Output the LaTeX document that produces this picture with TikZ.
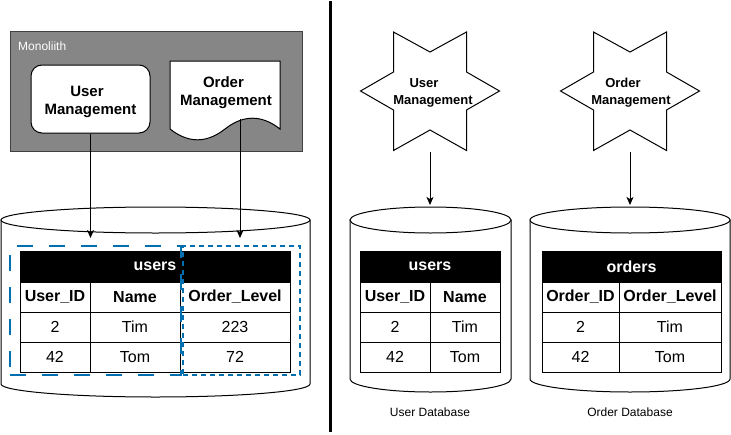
\documentclass[tikz,border=0pt]{standalone}
\usepackage{fontspec}
\setmainfont{Liberation Sans}
\usetikzlibrary{arrows.meta}
\definecolor{monogray}{HTML}{868686}
\definecolor{dashblue}{HTML}{006EAF}
\newcommand\myfs[1]{\fontsize{#1}{#1}\selectfont}
\newcommand\dbcyl[4]{%
  \pgfmathsetmacro\cylcx{(#1+#2)/2}%
  \pgfmathsetmacro\cylka{0.5523*(#2-#1)/2}%
  \draw[cyl] (#1,#3+13) -- (#1,#4-13)
    .. controls (#1,#4-5.82) and (\cylcx-\cylka,#4) .. (\cylcx,#4)
    .. controls (\cylcx+\cylka,#4) and (#2,#4-5.82) .. (#2,#4-13)
    -- (#2,#3+13) -- cycle;
  \draw[cyl] (\cylcx,#3+13) ellipse [x radius={(#2-#1)/2}, y radius=13];
}
\newcommand\hexstar[1]{%
  \draw[starline] (#1,52) -- (#1+36.5,32) -- (#1+36.5,72) -- (#1+69.5,91)
    -- (#1+36.5,110) -- (#1+36.5,150.5) -- (#1,130) -- (#1-36.5,150.5)
    -- (#1-36.5,110) -- (#1-69.5,91) -- (#1-36.5,72) -- (#1-36.5,32) -- cycle;
}
\tikzset{
  cyl/.style={draw=black, fill=white, line width=1pt},
  starline/.style={draw=black, fill=white, line width=1pt},
  hdr/.style={draw=black, fill=black, text=white, inner sep=0pt, minimum height=31pt, font=\myfs{16}\bfseries},
  cellb/.style={draw=black, fill=white, inner sep=0pt, minimum height=30pt, font=\myfs{16}\bfseries},
  cellr/.style={draw=black, fill=white, inner sep=0pt, minimum height=30pt, font=\myfs{16}},
  arr/.style={-{Stealth[length=8pt,width=7pt,inset=2pt]}, line width=1pt},
  bold15/.style={font=\fontsize{15}{18}\selectfont\bfseries, align=center},
  bold13/.style={font=\fontsize{13}{17}\selectfont\bfseries, align=center},
  caption/.style={font=\myfs{12}},
}
\begin{document}
\begin{tikzpicture}[x=1pt,y=-1pt]
\useasboundingbox (0,0) rectangle (731,434);

% ---------- left: monolith ----------
\node[draw=black!75, fill=monogray, line width=1pt, minimum width=292pt, minimum height=120pt, inner sep=0pt] (mono) at (156,91) {};
\node[anchor=west, text=white, font=\myfs{12}, inner sep=0pt] (monolabel) at (18,46.5) {Monoliith};
\node[draw=black, fill=white, line width=1pt, rounded corners=11pt, minimum width=119pt, minimum height=68pt, inner sep=0pt, bold15] (um) at (90.5,99) {};
\node[bold15, inner sep=0pt] (umt) at (90.5,102) {User\hspace*{7pt}\\Management};
\draw[draw=black, fill=white, line width=1pt] (170,61) -- (280,61) -- (280,129)
  .. controls (261.67,114.6) and (243.33,114.6) .. (225,129)
  .. controls (206.67,143.4) and (188.33,143.4) .. (170,129) -- cycle;
\node[bold15, inner sep=0pt] (om) at (226,92.5) {Order\hspace*{5pt}\\Management};
\coordinate (omw) at (240,119);

% left database
\dbcyl{1}{310}{207}{397}
\coordinate (ldbu) at (90.5,238);
\coordinate (ldbo) at (240,238);

\node[hdr, minimum width=270pt] (lh) at (155,266.5) {users};
\node[cellb, minimum width=70pt]  (l11) at (55,297)  {User\_ID};
\node[cellb, minimum width=90pt]  (l12) at (135,297) {Name};
\node[cellb, minimum width=110pt] (l13) at (235,297) {Order\_Level};
\node[cellr, minimum width=70pt]  (l21) at (55,327)  {2};
\node[cellr, minimum width=90pt]  (l22) at (135,327) {Tim};
\node[cellr, minimum width=110pt] (l23) at (235,327) {223};
\node[cellr, minimum width=70pt]  (l31) at (55,357)  {42};
\node[cellr, minimum width=90pt]  (l32) at (135,357) {Tom};
\node[cellr, minimum width=110pt] (l33) at (235,357) {72};

\node[draw=dashblue, line width=2pt, dash pattern=on 16pt off 16pt, minimum width=171pt, minimum height=129pt, inner sep=0pt] (gu) at (95.5,310.5) {};
\node[draw=dashblue, line width=2pt, dash pattern=on 5pt off 4pt, minimum width=117pt, minimum height=129pt, inner sep=0pt] (go) at (241.5,310.5) {};

\draw[arr] (um.south) -- (ldbu);
\draw[arr] (omw) -- (ldbo);

% divider
\coordinate (dtop) at (330,1);
\coordinate (dbot) at (330,432);
\draw[line width=3pt] (dtop) -- (dbot);

% ---------- right: microservices ----------
\hexstar{430}
\hexstar{630}
\node[bold13, inner sep=0pt] (us) at (433,93) {User\hspace*{18pt}\\Management};
\node[bold13, inner sep=0pt] (os) at (631,93) {Order\hspace*{16pt}\\Management};
\coordinate (usb) at (430,152);
\coordinate (osb) at (630,152);

\dbcyl{350}{511}{207}{392}
\dbcyl{530}{730}{207}{392}
\coordinate (udbt) at (430,205);
\coordinate (odbt) at (630,205);
\draw[arr] (usb) -- (udbt);
\draw[arr] (osb) -- (odbt);

\node[hdr, minimum width=140pt] (uh) at (430,266.5) {users};
\node[cellb, minimum width=70pt] (u11) at (395,297) {User\_ID};
\node[cellb, minimum width=70pt] (u12) at (465,297) {Name};
\node[cellr, minimum width=70pt] (u21) at (395,327) {2};
\node[cellr, minimum width=70pt] (u22) at (465,327) {Tim};
\node[cellr, minimum width=70pt] (u31) at (395,357) {42};
\node[cellr, minimum width=70pt] (u32) at (465,357) {Tom};

\node[hdr, minimum width=179pt] (oh) at (631.5,266.5) {orders};
\node[cellb, minimum width=77pt]  (o11) at (580.5,297) {Order\_ID};
\node[cellb, minimum width=102pt] (o12) at (670,297)   {Order\_Level};
\node[cellr, minimum width=77pt]  (o21) at (580.5,327) {2};
\node[cellr, minimum width=102pt] (o22) at (670,327)   {Tim};
\node[cellr, minimum width=77pt]  (o31) at (580.5,357) {42};
\node[cellr, minimum width=102pt] (o32) at (670,357)   {Tom};

\node[caption] (ucap) at (430,412) {User Database};
\node[caption] (ocap) at (630,412) {Order Database};
\end{tikzpicture}
\end{document}
